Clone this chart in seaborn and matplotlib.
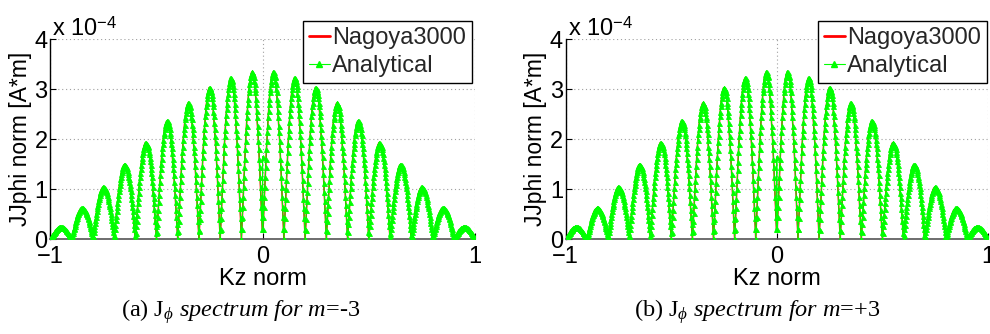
import numpy as np
import pandas as pd
import matplotlib
matplotlib.use("Agg")
import matplotlib.pyplot as plt
import seaborn as sns
from matplotlib.lines import Line2D

sns.set_theme(style="white")
plt.rcParams["font.family"] = ["Liberation Sans", "DejaVu Sans"]
plt.rcParams["mathtext.fontset"] = "custom"
plt.rcParams["mathtext.rm"] = "Liberation Serif"
plt.rcParams["mathtext.it"] = "Liberation Serif:italic"

# ---------------- data (values in units of 1e-4 A*m) ----------------
lobe_centers = [-0.95, -0.85, -0.75, -0.65, -0.55, -0.45, -0.35, -0.25, -0.15, -0.05,
                0.05, 0.15, 0.25, 0.35, 0.45, 0.55, 0.65, 0.75, 0.85, 0.95]
peaks_m_minus3 = [0.24, 0.62, 1.04, 1.49, 1.93, 2.36, 2.72, 3.03, 3.22, 3.34,
                  3.34, 3.22, 3.03, 2.72, 2.36, 1.93, 1.49, 1.04, 0.62, 0.24]
peaks_m_plus3 = [0.24, 0.62, 1.04, 1.49, 1.93, 2.36, 2.72, 3.03, 3.22, 3.34,
                 3.34, 3.22, 3.03, 2.72, 2.36, 1.93, 1.49, 1.04, 0.62, 0.24]
# normalised shape of half a lobe (rising side)
half_lobe = [0.00, 0.06, 0.13, 0.19, 0.25, 0.31, 0.37, 0.43, 0.48, 0.54, 0.59,
             0.64, 0.68, 0.73, 0.77, 0.81, 0.84, 0.88, 0.90, 0.93, 0.95,
             0.97, 0.98, 0.99, 1.00, 1.00]
lobe_step = 0.002
center_analytical = 1.65   # value of analytical curve at Kz = 0
center_nagoya = 0.18       # value of Nagoya3000 at Kz = 0
x_ticks = [-1, 0, 1]
x_ticklabels = ["\u22121", "0", "1"]
y_ticks = [0, 1, 2, 3, 4]
y_ticklabels = ["0", "1", "2", "3", "4"]
captions = ["(a) J$_{\\phi}$ $\\mathit{spectrum\\ for\\ m}$=-3",
            "(b) J$_{\\phi}$ $\\mathit{spectrum\\ for\\ m}$=+3"]


def build(peaks, centre_value):
    prof = np.array(half_lobe + half_lobe[-2::-1])
    n = len(prof)
    offs = (np.arange(n) - (n - 1) / 2) * lobe_step
    xs, ys = [], []
    for c, p in zip(lobe_centers, peaks):
        xx = c + offs
        yy = p * prof
        if xs:
            xx, yy = xx[1:], yy[1:]
        xs.extend(xx)
        ys.extend(yy)
    xs = np.array(xs)
    ys = np.array(ys)
    i0 = np.argmin(np.abs(xs))
    ys[i0] = centre_value
    return pd.DataFrame({"kz": xs, "J": ys})


fig = plt.figure(figsize=(9.9, 3.34), dpi=100)
W, H = 990.0, 334.0
axes_px = [(50.3, 475.0), (565.7, 988.0)]
legend_px = [(472.0, 21.0), (987.0, 21.0)]
cap_x = [241, 757]
peak_sets = [peaks_m_minus3, peaks_m_plus3]

FS = 17
for k in range(2):
    x0, x1 = axes_px[k]
    ax = fig.add_axes([x0 / W, 1 - 239.0 / H, (x1 - x0) / W, (239.0 - 39.3) / H])
    df_a = build(peak_sets[k], center_analytical)
    df_n = build(peak_sets[k], center_nagoya)
    sns.lineplot(data=df_n, x="kz", y="J", ax=ax, color="#ff0000", lw=1.1,
                 sort=False, estimator=None, zorder=2)
    sns.lineplot(data=df_a, x="kz", y="J", ax=ax, color="#00ff00", lw=0.7,
                 marker="^", markersize=3.6, markeredgewidth=0.6,
                 markeredgecolor="#00ff00", sort=False, estimator=None, zorder=3)
    ax.set_xlim(-1, 1)
    ax.set_ylim(0, 4)
    ax.set_xticks(x_ticks)
    ax.set_xticklabels(x_ticklabels)
    ax.set_yticks(y_ticks)
    ax.set_yticklabels(y_ticklabels)
    ax.tick_params(direction="in", length=4, width=0.8, labelsize=FS,
                   colors="black", bottom=True, left=True)
    ax.tick_params(axis="x", pad=5)
    ax.tick_params(axis="y", pad=2)
    ax.grid(True, color="#a0a0a0", linestyle=(0, (1, 2.5)), lw=0.8)
    for s in ["top", "right"]:
        ax.spines[s].set_visible(False)
    ax.spines["left"].set_color("black")
    ax.spines["left"].set_linewidth(1.0)
    ax.spines["bottom"].set_color("#555555")
    ax.spines["bottom"].set_linewidth(1.2)
    ax.set_xlabel("Kz norm", fontsize=FS, labelpad=0, color="black")
    ax.set_ylabel("JJphi norm [A*m]", fontsize=16.5, labelpad=2, color="black")
    ax.text(0.005, 0.99, "x 10$^{\\mathregular{\u22124}}$", transform=ax.transAxes,
            fontsize=FS, ha="left", va="bottom", color="black")
    handles = [Line2D([], [], color="#ff0000", lw=2),
               Line2D([], [], color="#00ff00", lw=0.8, marker="^", markersize=4)]
    lx, ly = legend_px[k]
    leg = ax.legend(handles, ["Nagoya3000", "Analytical"], loc="upper right",
                    bbox_to_anchor=(lx / W, 1 - ly / H), bbox_transform=fig.transFigure,
                    fontsize=FS, frameon=True, fancybox=False, framealpha=1,
                    edgecolor="black", handlelength=0.9, handletextpad=0.1,
                    borderpad=0.25, labelspacing=0.25, borderaxespad=0)
    leg.get_frame().set_linewidth(1.0)
    fig.text(cap_x[k] / W, 1 - 312.0 / H, captions[k], ha="center", va="center",
             fontsize=17.5, family="Liberation Serif", color="black")

fig.savefig("out.png", dpi=100)
